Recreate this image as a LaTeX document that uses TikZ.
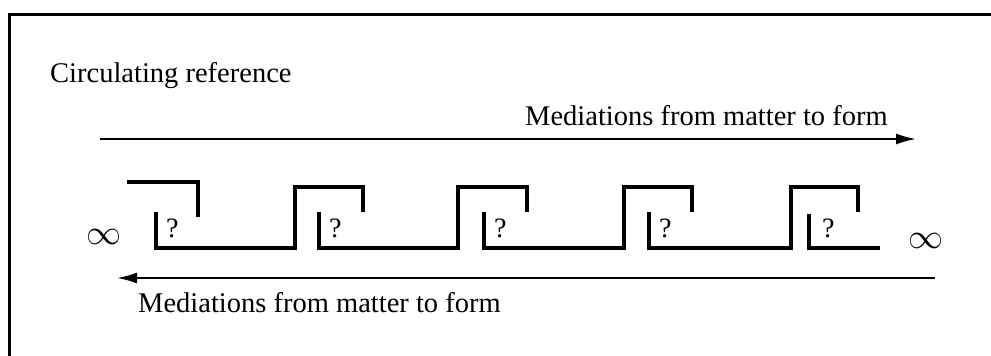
\documentclass[tikz,border=0pt]{standalone}
\usepackage{fontspec}
\setmainfont{Liberation Serif}
\usetikzlibrary{arrows.meta}
\tikzset{
  lbl/.style={anchor=base west, inner sep=0pt, font=\fontsize{28.5}{30}\selectfont},
  qm/.style={anchor=base west, inner sep=0pt, font=\fontsize{28}{30}\selectfont},
  inf/.style={inner sep=0pt},
  wave/.style={line width=3.2pt, miter limit=10},
  flow/.style={line width=2pt, -{Latex[length=20pt,width=11pt]}},
  frame/.style={line width=3pt}
}
\begin{document}
\begin{tikzpicture}[x=1pt,y=-1pt]
\useasboundingbox (0,0) rectangle (991,356);
\draw[frame] (9,360) -- (9,14) -- (995,14);
\node[lbl] (title) at (50,82) {Circulating reference};
% top arrow
\coordinate (ta) at (100,139);
\coordinate (tb) at (916,139);
\draw[flow] (ta) -- (tb);
\node[lbl] (tlab) at (525,125) {Mediations from matter to form};
% bottom arrow
\coordinate (ba) at (935,278);
\coordinate (bb) at (117,278);
\draw[flow] (ba) -- (bb);
\node[lbl] (blab) at (138,312) {Mediations from matter to form};
% infinity
\node[inf] (infl) at (104,237) {\resizebox{35pt}{!}{$\infty$}};
\node[inf] (infr) at (926,241) {\resizebox{35pt}{!}{$\infty$}};
% wave
\draw[wave] (127,182) -- (198,182) -- (198,217);
\draw[wave] (156,212) -- (156,248) -- (295,248) -- (295,187) -- (363,187) -- (363,212);
\draw[wave] (319,212) -- (319,248) -- (458,248) -- (458,187) -- (527,187) -- (527,212);
\draw[wave] (484,212) -- (484,248) -- (624,248) -- (624,187) -- (692,187) -- (692,212);
\draw[wave] (649,212) -- (649,248) -- (791,248) -- (791,187) -- (858,187) -- (858,212);
\draw[wave] (809,214) -- (809,248) -- (880,248);
% question marks
\node[qm] (q1) at (166,237) {?};
\node[qm] (q2) at (329,237) {?};
\node[qm] (q3) at (494,237) {?};
\node[qm] (q4) at (659,237) {?};
\node[qm] (q5) at (822,237) {?};
\end{tikzpicture}
\end{document}
